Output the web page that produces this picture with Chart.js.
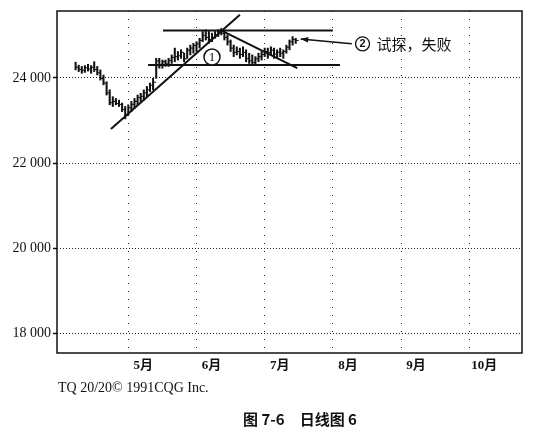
<!DOCTYPE html>
<html>
<head>
<meta charset="utf-8">
<script src="https://cdn.jsdelivr.net/npm/chart.js@4"></script>
<style>
  body { margin: 0; background: #fff; }
  .wrap { position: relative; width: 544px; height: 441px; }
  .copy { position: absolute; left: 58px; top: 380px; font: 14px "Liberation Serif", serif; color: #111; }
  .caption { position: absolute; left: 0; width: 600px; top: 408px; text-align: center; font: bold 15px "Noto Sans CJK SC", sans-serif; color: #111; }
</style>
</head>
<body>
<div class="wrap">
  <canvas id="chart" width="544" height="441"></canvas>
  <div class="copy">TQ 20/20© 1991CQG Inc.</div>
  <div class="caption">图 7-6　日线图 6</div>
</div>
<script>
// daily bars (trading-day index)
const days = [6,7,8,9,10,11,12,13,14,15,16,17,18,19,20,21,22,23,24,25,26,27,28,29,30,31,32,33,34,35,36,37,38,39,40,41,
  42,43,44,45,46,47,48,49,50,51,52,53,54,55,56,57,58,59,60,61,62,63,64,65,66,67,68,69,70,71,72,73,74,75,76,77];
const highs = [24370,24300,24270,24290,24320,24290,24380,24270,24190,24070,23910,23720,23560,23520,23480,23410,23330,23370,23450,23520,23600,23640,23720,23800,23880,23990,
  24460,24460,24420,24420,24460,24540,24700,24620,24660,24580,24700,24770,24810,24850,24930,25090,25130,25090,25050,25090,25130,25160,25090,25010,
  24890,24770,24730,24700,24730,24660,24580,24540,24500,24580,24620,24700,24700,24730,24700,24660,24700,24660,24770,24890,24970,24930];
const lows = [24190,24150,24110,24130,24160,24110,24150,24070,23950,23840,23600,23370,23330,23370,23330,23210,23040,23130,23210,23290,23370,23450,23480,23560,23680,23720,
  23990,24230,24230,24270,24270,24340,24380,24420,24460,24380,24460,24540,24580,24620,24700,24850,24890,24810,24850,24930,24970,25010,24890,24770,
  24620,24500,24540,24460,24500,24380,24340,24300,24300,24380,24420,24500,24460,24540,24460,24460,24500,24460,24580,24660,24770,24810];
const closes = [24250,24200,24180,24240,24210,24250,24200,24120,23990,23880,23650,23420,23450,23400,23380,23260,23120,23300,23380,23450,23540,23570,23650,23720,23830,23900,
  24400,24300,24380,24330,24410,24480,24500,24520,24600,24450,24650,24700,24760,24800,24880,25000,24950,24900,24950,25000,25080,25050,24950,24850,
  24700,24600,24620,24550,24600,24450,24400,24360,24450,24500,24550,24620,24600,24650,24560,24600,24580,24620,24720,24850,24900,24880];

// axis ticks
const yTicks = [18000, 20000, 22000, 24000];
const monthGrid = [23, 45, 67, 89, 111, 133];
const monthLabels = ["5月", "6月", "7月", "8月", "9月", "10月"];

// drawn lines: [x1, y1, x2, y2]
const upTrend = [17.4, 22800, 59, 25480];
const topLine = [34.2, 25110, 89, 25110];
const bottomLine = [29.4, 24305, 91.3, 24305];
const downTrend = [53.1, 25110, 77.5, 24230];
const arrow2 = [95.1, 24800, 78.6, 24915];
const mark1 = [50, 24490];
const note2 = [96.3, 24800];

function seg(a) {
  return {
    type: "line",
    data: [{ x: a[0], y: a[1] }, { x: a[2], y: a[3] }],
    borderColor: "#111",
    borderWidth: 2,
    pointRadius: 0,
    order: 0,
  };
}

const notes = {
  id: "notes",
  afterDraw(chart) {
    const { ctx, chartArea: a, scales: { x, y } } = chart;
    ctx.save();
    // frame
    ctx.strokeStyle = "#111";
    ctx.lineWidth = 1.5;
    ctx.strokeRect(a.left, a.top, a.right - a.left, a.bottom - a.top);

    // circled 1
    const cx = x.getPixelForValue(mark1[0]);
    const cy = y.getPixelForValue(mark1[1]);
    ctx.beginPath();
    ctx.arc(cx, cy, 8, 0, Math.PI * 2);
    ctx.fillStyle = "#fff";
    ctx.fill();
    ctx.lineWidth = 1.5;
    ctx.stroke();
    ctx.fillStyle = "#111";
    ctx.font = "13px 'Liberation Serif'";
    ctx.textAlign = "center";
    ctx.textBaseline = "middle";
    ctx.fillText("1", cx, cy + 1);

    // arrow
    const x1 = x.getPixelForValue(arrow2[0]), y1 = y.getPixelForValue(arrow2[1]);
    const x2 = x.getPixelForValue(arrow2[2]), y2 = y.getPixelForValue(arrow2[3]);
    ctx.lineWidth = 1.5;
    ctx.beginPath();
    ctx.moveTo(x1, y1);
    ctx.lineTo(x2, y2);
    ctx.stroke();
    const ang = Math.atan2(y2 - y1, x2 - x1);
    ctx.beginPath();
    ctx.moveTo(x2, y2);
    ctx.lineTo(x2 - 8 * Math.cos(ang - 0.35), y2 - 8 * Math.sin(ang - 0.35));
    ctx.lineTo(x2 - 8 * Math.cos(ang + 0.35), y2 - 8 * Math.sin(ang + 0.35));
    ctx.closePath();
    ctx.fill();

    // note 2: circled digit then text
    const tx = x.getPixelForValue(note2[0]);
    const ty = y.getPixelForValue(note2[1]);
    ctx.beginPath();
    ctx.arc(tx + 7, ty, 7, 0, Math.PI * 2);
    ctx.lineWidth = 1.3;
    ctx.stroke();
    ctx.textAlign = "center";
    ctx.font = "bold 11px 'Liberation Sans'";
    ctx.fillText("2", tx + 7, ty + 0.5);
    ctx.textAlign = "left";
    ctx.font = "15px 'Noto Sans CJK SC'";
    ctx.fillText("试探，失败", tx + 21, ty);
    ctx.restore();
  },
};

new Chart(document.getElementById("chart"), {
  data: {
    datasets: [
      {
        type: "bar",
        data: days.map((d, i) => ({ x: d, y: [lows[i], highs[i]] })),
        backgroundColor: "#111",
        barThickness: 1.4,
        order: 2,
      },
      {
        type: "scatter",
        data: days.map((d, i) => ({ x: d + 0.5, y: closes[i] })),
        pointStyle: "line",
        radius: 1.5,
        borderColor: "#111",
        borderWidth: 1,
        order: 1,
      },
      seg(upTrend),
      seg(topLine),
      seg(bottomLine),
      seg(downTrend),
    ],
  },
  options: {
    responsive: false,
    animation: false,
    layout: { padding: { left: 0, top: 11, right: 22, bottom: 0 } },
    plugins: { legend: { display: false }, tooltip: { enabled: false } },
    scales: {
      x: {
        type: "linear",
        min: 0,
        max: 150,
        offset: false,
        afterBuildTicks: (s) => { s.ticks = monthGrid.map((v) => ({ value: v })); },
        afterFit: (s) => { s.height = 88; },
        grid: { color: "#222", offset: false, drawTicks: false, lineWidth: 1 },
        border: { display: false, dash: [1, 7] },
        ticks: {
          callback: (v, i) => monthLabels[i],
          labelOffset: 15,
          padding: 5,
          color: "#111",
          maxRotation: 0,
          font: { family: "'Liberation Serif', 'Noto Sans CJK SC'", size: 13, weight: "bold" },
        },
      },
      y: {
        min: 17550,
        max: 25570,
        afterBuildTicks: (s) => { s.ticks = yTicks.map((v) => ({ value: v })); },
        afterFit: (s) => { s.width = 57; },
        grid: { color: "#222", tickLength: 4, tickBorderDash: [], tickColor: "#111", tickWidth: 1.5 },
        border: { display: false, dash: [1, 2] },
        ticks: {
          callback: (v) => String(v).slice(0, 2) + " " + String(v).slice(2),
          padding: 2,
          color: "#111",
          font: { family: "'Liberation Serif'", size: 14 },
        },
      },
    },
  },
  plugins: [notes],
});
</script>
</body>
</html>
